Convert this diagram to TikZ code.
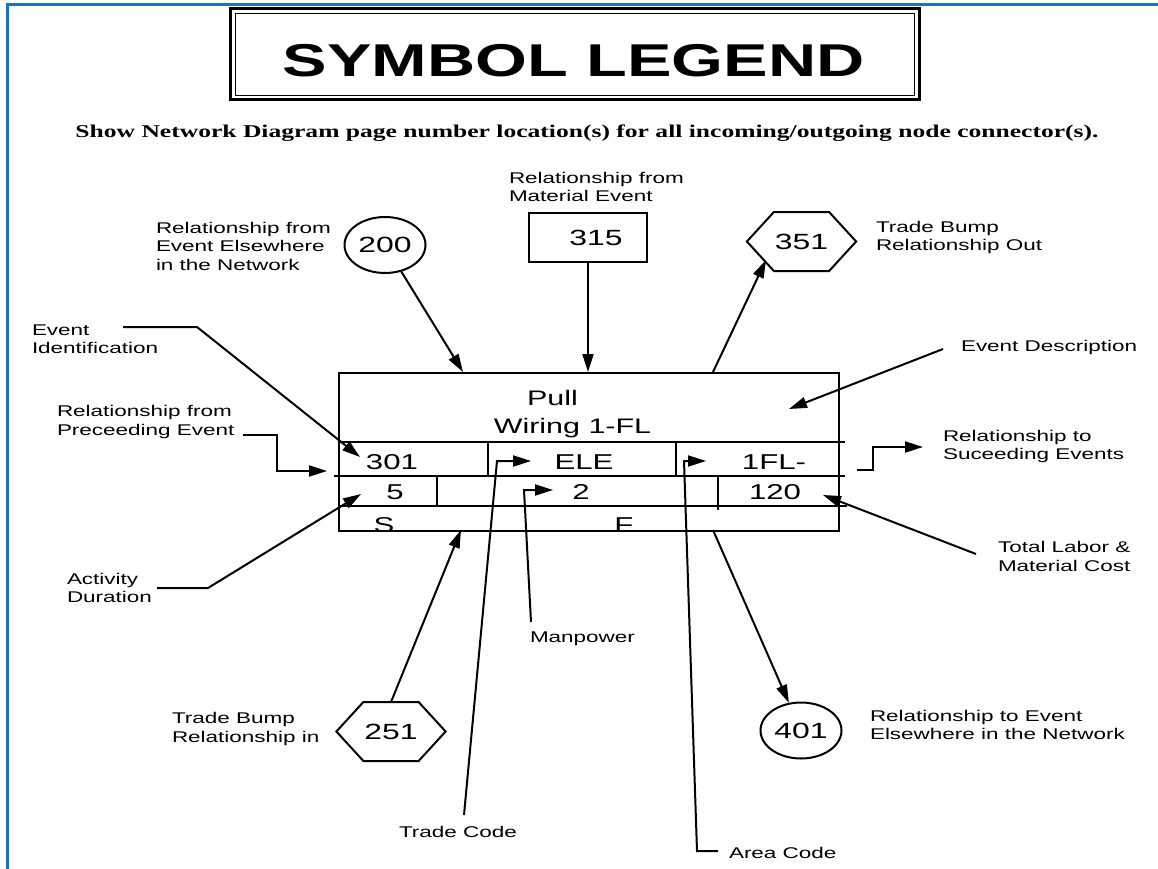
\documentclass[tikz,border=0pt]{standalone}
\usepackage{fontspec}
\setmainfont{Liberation Sans}[FakeStretch=1.45]
\newfontfamily\subfont{Liberation Serif}[FakeStretch=1.42]
\usetikzlibrary{arrows.meta,calc,shapes.geometric}
\definecolor{frameblue}{RGB}{30,115,190}
\begin{document}
\begin{tikzpicture}[x=1pt,y=-1pt,
  line width=2pt,
  arr/.style={-{Triangle[length=18pt,width=11pt]}},
  lbl/.style={font=\fontsize{15.5}{18.5}\selectfont, align=left, inner sep=0pt, anchor=west},
  cell/.style={font=\fontsize{21.5}{24}\selectfont, inner sep=0pt, anchor=base},
  num/.style={font=\fontsize{22}{24}\selectfont, inner sep=0pt},
  hexbox/.style={num, minimum width=51pt, minimum height=57pt}
]
\useasboundingbox (0,0) rectangle (1158,869);
% blue frame
\draw[frameblue, line width=3pt] (7,869) -- (7,5) -- (1158,5);

% title
\node[draw, line width=2.5pt, minimum width=689pt, minimum height=91pt, inner sep=0, anchor=north west] (ttlout) at (229,7.5) {};
\node[draw, line width=1.2pt, minimum width=679pt, minimum height=82pt, inner sep=0] (ttlin) at (ttlout.center) {};
\node[font=\fontsize{46}{50}\selectfont\bfseries, anchor=base, inner sep=0] (ttl) at (573.5,77) {SYMBOL LEGEND};
\node[font=\subfont\bfseries\fontsize{18}{20}\selectfont, anchor=base, inner sep=0] (sub) at (587,138) {Show Network Diagram page number location(s) for all incoming/outgoing node connector(s).};

% top symbols
\node[draw, ellipse, minimum width=81pt, minimum height=56pt, num] (c200) at (385,245) {200};
\node[draw, minimum width=118pt, minimum height=49pt, num] (b315) at (588,237.5) {\hspace*{16pt}315};
\node[hexbox] (h351) at (801.5,241.5) {351};
\draw (h351.north west) -- (h351.north east) -- ($(h351.east)+(27,0)$) -- (h351.south east) -- (h351.south west) -- ($(h351.west)+(-27,0)$) -- cycle;

% bottom symbols
\node[hexbox] (h251) at (391,731.5) {251};
\draw (h251.north west) -- (h251.north east) -- ($(h251.east)+(27,0)$) -- (h251.south east) -- (h251.south west) -- ($(h251.west)+(-27,0)$) -- cycle;
\node[draw, ellipse, minimum width=81pt, minimum height=56pt, num] (c401) at (801,730.5) {401};

% event box
\node[draw, minimum width=500pt, minimum height=158pt, inner sep=0, anchor=north west] (ev) at (338,372) {};
\draw (338,442) -- (845,442);
\draw (334,476) -- (845,476);
\draw (338,506) -- (847,506);
\draw (488,442) -- (488,476);
\draw (676,442) -- (676,476);
\draw (437,476) -- (437,506);
\draw (718,476) -- (718,510);
\node[cell, font=\fontsize{21}{24}\selectfont] (pull) at (552.5,405) {Pull};
\node[cell, font=\fontsize{21}{24}\selectfont] (wiring) at (572.5,433) {Wiring 1-FL};
\node[cell] (id) at (392,469) {301};
\node[cell] (ele) at (584,469) {ELE};
\node[cell] (area) at (774,469) {1FL-};
\node[cell] (dur) at (395,499) {5};
\node[cell] (mp) at (581,499) {2};
\node[cell] (cost) at (775,499) {120};
\begin{scope}
\clip (338,506) rectangle (838,529);
\node[cell] (sS) at (384,532) {S};
\node[cell] (sF) at (624,532) {F};
\end{scope}

% labels
\node[lbl] (l200) at (155,246) {Relationship from\\Event Elsewhere\\in the Network};
\node[lbl] (l315) at (508,187) {Relationship from\\Material Event};
\node[lbl] (l351) at (875,237.5) {Trade Bump\\Relationship Out};
\node[lbl] (ldesc) at (960,347) {Event Description};
\node[lbl] (lid) at (31,339) {Event\\Identification};
\node[lbl] (lprec) at (56,422) {Relationship from\\Preceeding Event};
\node[lbl] (lsucc) at (942,446.5) {Relationship to\\Suceeding Events};
\node[lbl] (lcost) at (997,556.5) {Total Labor \&\\Material Cost};
\node[lbl] (ldur) at (66,588) {Activity\\Duration};
\node[lbl] (lmp) at (529,639) {Manpower};
\node[lbl] (l251) at (171,729) {Trade Bump\\Relationship in};
\node[lbl, anchor=center] (ltc) at (458,832) {Trade Code};
\node[lbl] (lac) at (728,853) {Area Code};
\node[lbl] (l401) at (869,725) {Relationship to Event\\Elsewhere in the Network};

% connector end points
\coordinate (t200) at (463,372);
\coordinate (t351) at (713,372);
\coordinate (a351) at (766,260);
\coordinate (b251) at (461,530);
\coordinate (b401) at (713,530);
\coordinate (sdesc) at (943,349);
\coordinate (pdesc) at (789,409);
\coordinate (sid) at (123,327);
\coordinate (pid) at (360,457);
\coordinate (sprec) at (243,435);
\coordinate (pprec) at (327,471);
\coordinate (ssucc) at (857,470);
\coordinate (psucc) at (923,447);
\coordinate (scost) at (976,554);
\coordinate (pcost) at (823,495);
\coordinate (sdur) at (157,588);
\coordinate (pdur) at (361,494);
\coordinate (smp) at (531,622);
\coordinate (pmp) at (553,490);
\coordinate (stc) at (464,815);
\coordinate (ptc) at (531,461);
\coordinate (sac) at (718,851);
\coordinate (pac) at (706,461);

% connectors
\draw[arr] (c200) -- (t200);
\draw[arr] (b315.south) -- (b315.south |- ev.north);
\draw[arr] (t351) -- (a351);
\draw[arr] (h251.north) -- (b251);
\draw[arr] (b401) -- (c401);
\draw[arr] (sdesc) -- (pdesc);
\draw[arr] (sid) -- ++(74,0) -- (pid);
\draw[arr] (sprec) -- ++(34,0) |- (pprec);
\draw[arr] (ssucc) -- ++(16,0) |- (psucc);
\draw[arr] (scost) -- (pcost);
\draw[arr] (sdur) -- ++(51,0) -- (pdur);
\draw[arr] (smp) -- (524,490) -- (pmp);
\draw[arr] (stc) -- (497,461) -- (ptc);
\draw[arr] (sac) -- (697,851) -- (684,461) -- (pac);
\end{tikzpicture}
\end{document}
